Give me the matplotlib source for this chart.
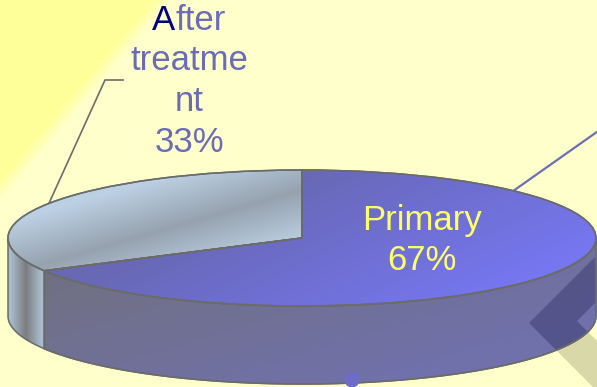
import numpy as np
import matplotlib
matplotlib.use("Agg")
import matplotlib.pyplot as plt
from matplotlib.patches import Wedge, Polygon, Circle
from matplotlib.transforms import Affine2D
from matplotlib.colors import to_rgb

plt.rcParams['font.family'] = ['Liberation Sans', 'DejaVu Sans']

# slice data
labels = ["Primary", "After\ntreatme\nnt"]
shares = [67, 33]

W, H = 597, 387
cx, cy = 302, 238          # centre of the top face (pixels)
rx, ry = 294, 68           # ellipse radii
depth = 78                 # height of the cylinder wall
edge = "#6b6b6b"

fig = plt.figure(figsize=(W / 100, H / 100), dpi=100)
ax = fig.add_axes([0, 0, 1, 1])
ax.set_xlim(0, W)
ax.set_ylim(H, 0)
ax.axis("off")

X, Y = np.meshgrid(np.arange(W) + 0.5, np.arange(H) + 0.5)


def blend(c1, c2, s):
    s = np.clip(s, 0, 1)[..., None]
    return (1 - s) * np.array(to_rgb(c1)) + s * np.array(to_rgb(c2))


def fill(img, patch, z):
    ax.add_patch(patch)
    im = ax.imshow(img, extent=(0, W, H, 0), zorder=z, interpolation="bilinear")
    im.set_clip_path(patch)


def rim(t):
    t = np.radians(t)
    return cx + rx * np.cos(t), cy - ry * np.sin(t)


# background with the brighter corner
bg = blend("#ffff99", "#ffffcc", (X / 157 + Y / 185 - 0.97) * 8)
ax.imshow(bg, extent=(0, W, H, 0), zorder=0)

# shadow band behind the pie
band = [(529, 323), (600, 252), (600, 298), (577, 321), (650, 394), (600, 394)]
ax.add_patch(Polygon(band, closed=True, fc="#d8d8a8", ec="none", zorder=1))

# slice angles, counter-clockwise from the top
after_start = 90
after_end = after_start + 360 * shares[1] / sum(shares)
prim_start, prim_end = after_end, after_start + 360
ell = Affine2D().scale(rx, -ry).translate(cx, cy) + ax.transData

# leader lines
mx, my = rim((after_start + after_end) / 2)
ax.plot([mx, 105, 123], [my, 80, 80], color=edge, lw=1.2, zorder=2)
px, py = rim(44)
ax.plot([px, 600], [py, py - 0.705 * (600 - px)], color="#6e6eb8", lw=1.6, zorder=2)


def wall(t1, t2):
    ts = np.linspace(t1, t2, 120)
    x, y = rim(ts)
    pts = np.column_stack([np.r_[x, x[::-1]], np.r_[y, (y + depth)[::-1]]])
    return pts


# side walls (front half only)
side_after = Polygon(wall(180, after_end), closed=True, fc="none", ec=edge, lw=1.1, zorder=4)
s = np.abs(X - 26) / 15
fill(blend("#7c7c80", "#a8bccc", s), side_after, 3)

side_prim = Polygon(wall(after_end, 360), closed=True, fc="none", ec=edge, lw=1.1, zorder=4)
fill(blend("#707082", "#7070aa", (X * 0.3 + Y - 290) / 200), side_prim, 3)
ax.add_patch(Polygon(wall(after_end, 360), closed=True, fc="none", ec=edge, lw=1.1, zorder=4))

# darker part of the shadow band falling on the wall
dark = Polygon(band, closed=True, fc="#2a2a60", ec="none", alpha=0.4, zorder=3.5)
ax.add_patch(dark)
dark.set_clip_path(side_prim)

# top faces
top_after = Wedge((0, 0), 1, after_start, after_end, transform=ell, fc="none", ec=edge, lw=1.1, zorder=6)
d = 0.277 * X + 0.961 * Y - 266
fill(blend("#96a2ae", "#bcd0e4", np.abs(d) / 50), top_after, 5)

top_prim = Wedge((0, 0), 1, prim_start, prim_end, transform=ell, fc="none", ec=edge, lw=1.1, zorder=6)
fill(blend("#6868b4", "#7676f0", (X * 0.5 + Y - 320) / 220), top_prim, 5)
ax.add_patch(Wedge((0, 0), 1, after_start, after_end, transform=ell, fc="none", ec=edge, lw=1.1, zorder=6))
ax.add_patch(Wedge((0, 0), 1, prim_start, prim_end, transform=ell, fc="none", ec=edge, lw=1.1, zorder=6))

# labels, one line at a time
fs = 25
step = 40.5


def label(x, y0, text, color):
    out = []
    for i, line in enumerate(text.split("\n")):
        out.append(ax.text(x, y0 + i * step, line, ha="center", va="baseline",
                           fontsize=fs, color=color, zorder=8))
    return out


label(422, 230, f"{labels[0]}\n{shares[0]}%", "#ffff66")
lines = label(189, 30, f"{labels[1]}\n{shares[1]}%", "#6b6bb8")

# first letter of the outer label is in navy: split the first line in two
r = fig.canvas.get_renderer()
inv = ax.transData.inverted()
word = lines[0].get_text()
x0 = inv.transform((lines[0].get_window_extent(r).x0, 0))[0]
head = ax.text(x0, 30, word[0], ha="left", va="baseline", fontsize=fs,
               color="#000080", zorder=9)
x1 = inv.transform((head.get_window_extent(r).x1, 0))[0]
lines[0].set_text(word[1:])
lines[0].set_horizontalalignment("left")
lines[0].set_x(x1)

ax.add_patch(Circle((352, 380), 7.5, fc="#6d6dc8", ec="none", zorder=9))

fig.savefig("out.png", dpi=100)
